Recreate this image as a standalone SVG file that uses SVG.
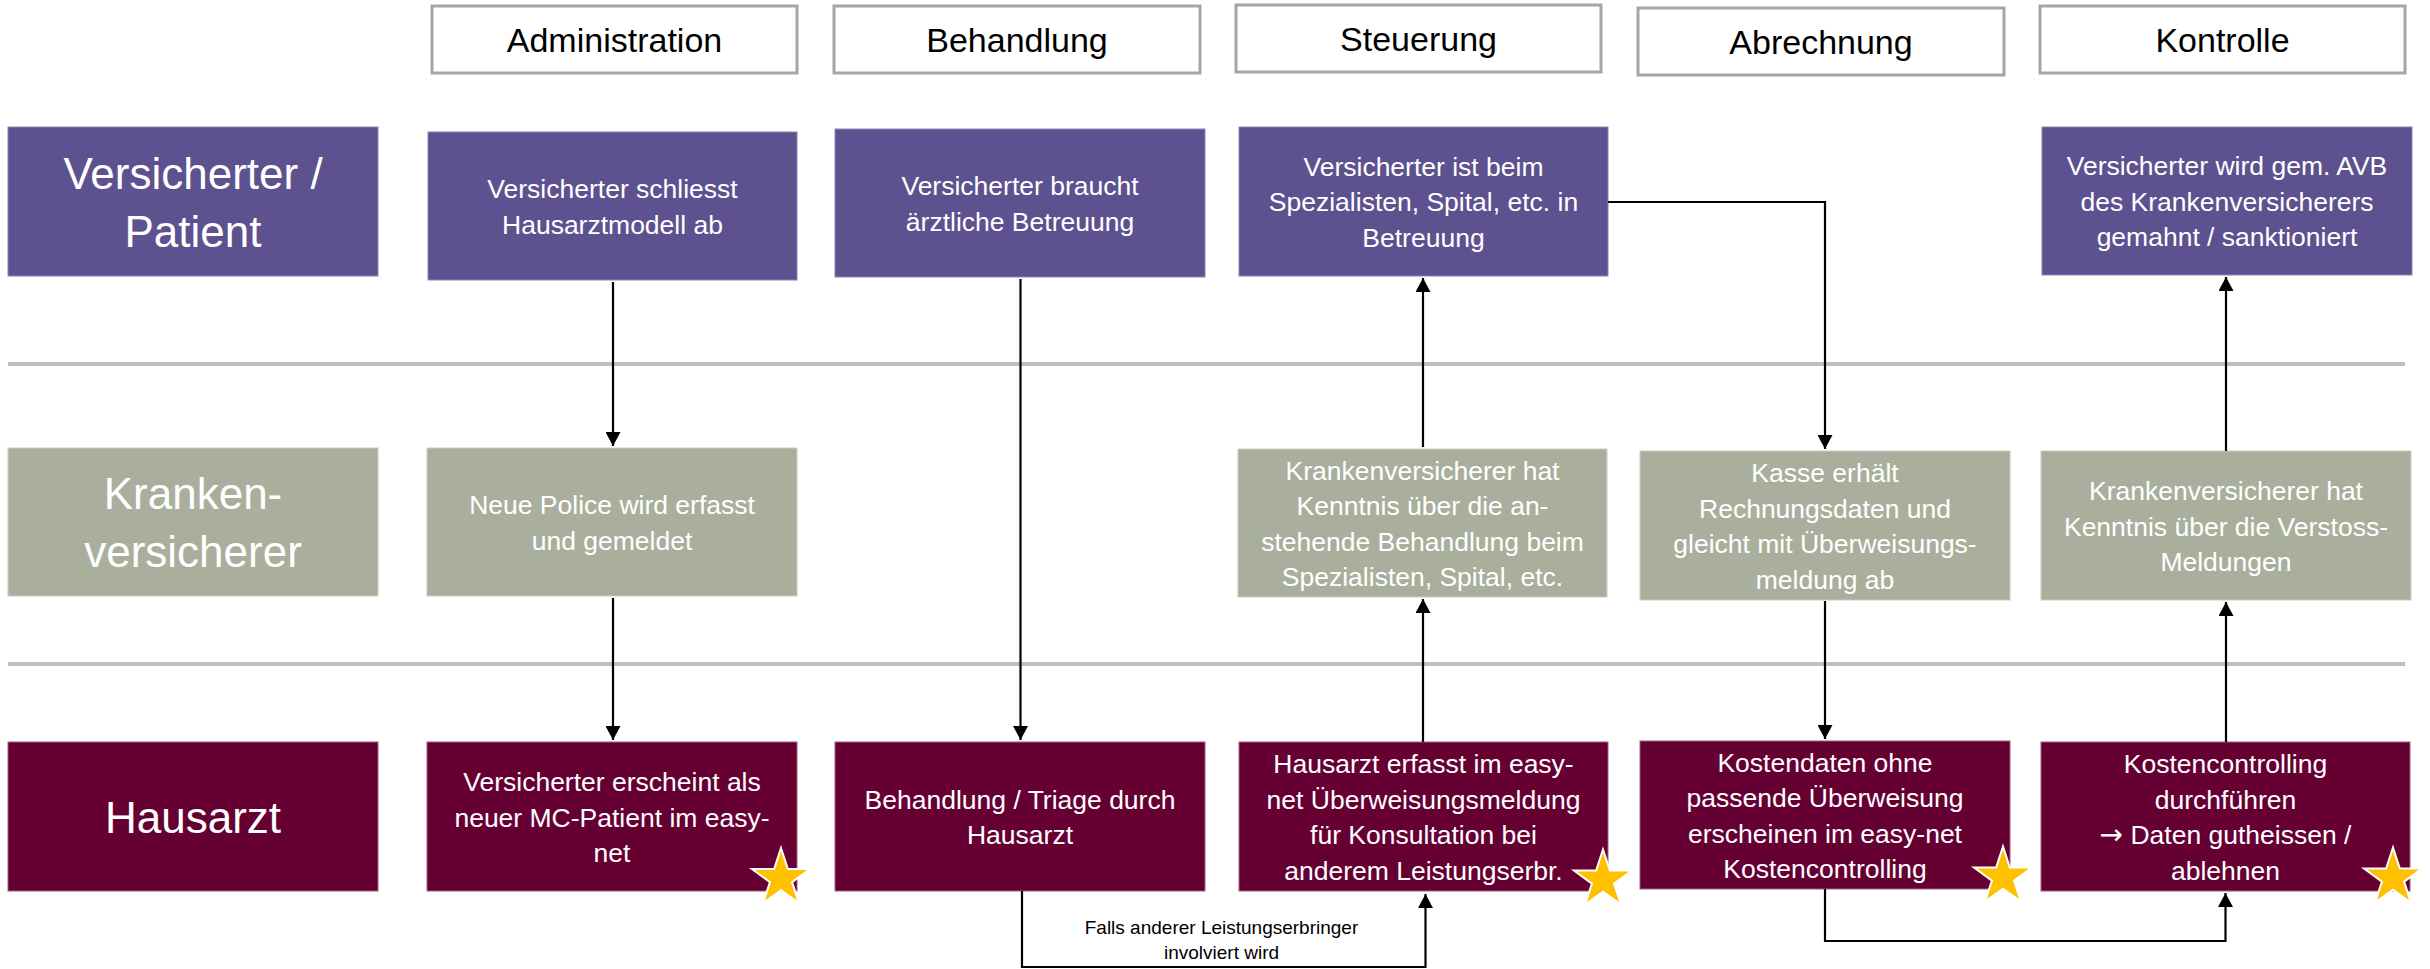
<svg xmlns="http://www.w3.org/2000/svg" width="2430" height="969" viewBox="0 0 2430 969">
<style>
.hdr{fill:#fff;stroke:#A6A6A6;stroke-width:3}
.hdrt{font-family:"Liberation Sans",Arial,sans-serif;font-size:34px;fill:#000;text-anchor:middle}
.pur{fill:#5D518F;stroke:#8C84B5;stroke-width:1}
.grn{fill:#A9AF9C;stroke:#C9CDC0;stroke-width:1}
.mar{fill:#660033;stroke:#A06080;stroke-width:1}
.lbl{font-family:"Liberation Sans",Arial,sans-serif;font-size:44px;fill:#fff;text-anchor:middle}
.txt{font-family:"Liberation Sans",Arial,sans-serif;font-size:26.5px;fill:#fff;text-anchor:middle}
.sym{font-family:"DejaVu Sans",sans-serif;font-size:28px}
.sep{stroke:#BFBFBF;stroke-width:4;fill:none}
.con{stroke:#000;stroke-width:2.2;fill:none}
.arr{marker-end:url(#ah)}
.clbl{font-family:"Liberation Sans",Arial,sans-serif;font-size:19px;fill:#000;text-anchor:middle}
.star{fill:#FFC000;stroke:#fff;stroke-width:2}
</style>
<defs>
<marker id="ah" viewBox="0 0 14 15" refX="14" refY="7.5" markerWidth="14" markerHeight="15" markerUnits="userSpaceOnUse" orient="auto">
<path d="M0,0 L14,7.5 L0,15 z" fill="#000"/>
</marker>
<polygon id="st" class="star" points="0,-30.5 6.85,-9.43 29.01,-9.43 11.08,3.6 17.93,24.68 0,11.65 -17.93,24.68 -11.08,3.6 -29.01,-9.43 -6.85,-9.43"/>
</defs>
<rect width="2430" height="969" fill="#fff"/>

<g id="separators">
<line class="sep" x1="8" y1="364" x2="2405" y2="364"/>
<line class="sep" x1="8" y1="664" x2="2405" y2="664"/>
</g>

<g id="hdr-administration"><rect class="hdr" x="432" y="6" width="365" height="67"/><text class="hdrt" x="614.5" y="52">Administration</text></g>
<g id="hdr-behandlung"><rect class="hdr" x="834" y="6" width="366" height="67"/><text class="hdrt" x="1017" y="52">Behandlung</text></g>
<g id="hdr-steuerung"><rect class="hdr" x="1236" y="5" width="365" height="67"/><text class="hdrt" x="1418.5" y="51">Steuerung</text></g>
<g id="hdr-abrechnung"><rect class="hdr" x="1638" y="8" width="366" height="67"/><text class="hdrt" x="1821" y="54">Abrechnung</text></g>
<g id="hdr-kontrolle"><rect class="hdr" x="2040" y="6" width="365" height="67"/><text class="hdrt" x="2222.5" y="52">Kontrolle</text></g>

<g id="lane-patient"><rect class="pur" x="8" y="127" width="370" height="149"/><text class="lbl" x="193" y="188.5">Versicherter /</text><text class="lbl" x="193" y="246.5">Patient</text></g>
<g id="lane-kv"><rect class="grn" x="8" y="448" width="370" height="148"/><text class="lbl" x="193" y="509">Kranken-</text><text class="lbl" x="193" y="567">versicherer</text></g>
<g id="lane-hausarzt"><rect class="mar" x="8" y="742" width="370" height="149"/><text class="lbl" x="193" y="832.5">Hausarzt</text></g>

<g id="p-admin"><rect class="pur" x="428" y="132" width="369" height="148"/><text class="txt" x="612.5" y="198">Versicherter schliesst</text><text class="txt" x="612.5" y="233.5">Hausarztmodell ab</text></g>
<g id="p-behandlung"><rect class="pur" x="835" y="129" width="370" height="148"/><text class="txt" x="1020" y="195">Versicherter braucht</text><text class="txt" x="1020" y="230.5">ärztliche Betreuung</text></g>
<g id="p-steuerung"><rect class="pur" x="1239" y="127" width="369" height="149"/><text class="txt" x="1423.5" y="175.5">Versicherter ist beim</text><text class="txt" x="1423.5" y="211">Spezialisten, Spital, etc. in</text><text class="txt" x="1423.5" y="246.5">Betreuung</text></g>
<g id="p-kontrolle"><rect class="pur" x="2042" y="127" width="370" height="148"/><text class="txt" x="2227" y="175">Versicherter wird gem. AVB</text><text class="txt" x="2227" y="210.5">des Krankenversicherers</text><text class="txt" x="2227" y="246">gemahnt / sanktioniert</text></g>

<g id="k-admin"><rect class="grn" x="427" y="448" width="370" height="148"/><text class="txt" x="612" y="514">Neue Police wird erfasst</text><text class="txt" x="612" y="549.5">und gemeldet</text></g>
<g id="k-steuerung"><rect class="grn" x="1238" y="449" width="369" height="148"/><text class="txt" x="1422.5" y="479.5">Krankenversicherer hat</text><text class="txt" x="1422.5" y="515">Kenntnis über die an-</text><text class="txt" x="1422.5" y="550.5">stehende Behandlung beim</text><text class="txt" x="1422.5" y="586">Spezialisten, Spital, etc.</text></g>
<g id="k-abrechnung"><rect class="grn" x="1640" y="451" width="370" height="149"/><text class="txt" x="1825" y="482">Kasse erhält</text><text class="txt" x="1825" y="517.5">Rechnungsdaten und</text><text class="txt" x="1825" y="553">gleicht mit Überweisungs-</text><text class="txt" x="1825" y="588.5">meldung ab</text></g>
<g id="k-kontrolle"><rect class="grn" x="2041" y="451" width="370" height="149"/><text class="txt" x="2226" y="500">Krankenversicherer hat</text><text class="txt" x="2226" y="535.5">Kenntnis über die Verstoss-</text><text class="txt" x="2226" y="571">Meldungen</text></g>

<g id="h-admin"><rect class="mar" x="427" y="742" width="370" height="149"/><text class="txt" x="612" y="791">Versicherter erscheint als</text><text class="txt" x="612" y="826.5">neuer MC-Patient im easy-</text><text class="txt" x="612" y="862">net</text><use href="#st" x="781" y="878.5"/></g>
<g id="h-behandlung"><rect class="mar" x="835" y="742" width="370" height="149"/><text class="txt" x="1020" y="808.5">Behandlung / Triage durch</text><text class="txt" x="1020" y="844">Hausarzt</text></g>
<g id="h-steuerung"><rect class="mar" x="1239" y="742" width="369" height="149"/><text class="txt" x="1423.5" y="773">Hausarzt erfasst im easy-</text><text class="txt" x="1423.5" y="808.5">net Überweisungsmeldung</text><text class="txt" x="1423.5" y="844">für Konsultation bei</text><text class="txt" x="1423.5" y="879.5">anderem Leistungserbr.</text><use href="#st" x="1603" y="880"/></g>
<g id="h-abrechnung"><rect class="mar" x="1640" y="741" width="370" height="148"/><text class="txt" x="1825" y="771.5">Kostendaten ohne</text><text class="txt" x="1825" y="807">passende Überweisung</text><text class="txt" x="1825" y="842.5">erscheinen im easy-net</text><text class="txt" x="1825" y="878">Kostencontrolling</text><use href="#st" x="2003" y="877"/></g>
<g id="h-kontrolle"><rect class="mar" x="2041" y="742" width="369" height="149"/><text class="txt" x="2225.5" y="773">Kostencontrolling</text><text class="txt" x="2225.5" y="808.5">durchführen</text><text class="txt" x="2225.5" y="844"><tspan class="sym">→</tspan> Daten gutheissen /</text><text class="txt" x="2225.5" y="879.5">ablehnen</text><use href="#st" x="2393" y="878"/></g>

<g id="connectors">
<path class="con arr" d="M613,282 V446"/>
<path class="con arr" d="M613,598 V740"/>
<path class="con arr" d="M1020.5,279 V740"/>
<path class="con arr" d="M1022,891 V967 H1425.5 V894"/>
<path class="con arr" d="M1423,742 V599"/>
<path class="con arr" d="M1423,447 V278"/>
<path class="con arr" d="M1608,202 H1825 V449"/>
<path class="con arr" d="M1825,601 V739"/>
<path class="con arr" d="M1825,889 V941 H2225.5 V893"/>
<path class="con arr" d="M2226,742 V602"/>
<path class="con arr" d="M2226,451 V277"/>
<text class="clbl" x="1221.5" y="934">Falls anderer Leistungserbringer</text>
<text class="clbl" x="1221.5" y="959">involviert wird</text>
</g>
</svg>
